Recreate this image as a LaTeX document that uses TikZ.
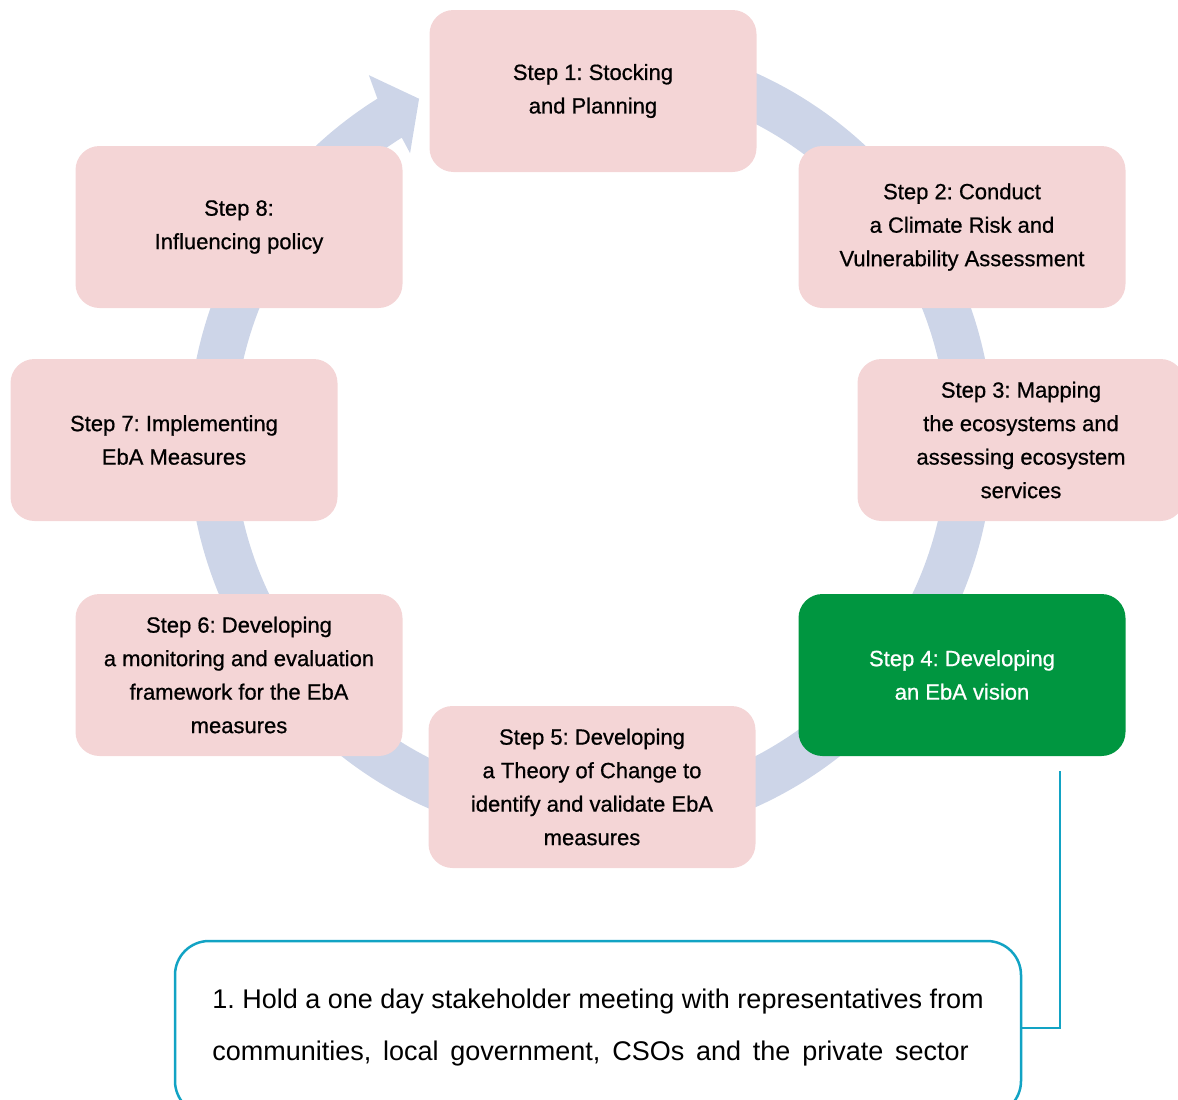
\documentclass[tikz,border=0pt]{standalone}
\usepackage{fontspec}
\setmainfont{Liberation Sans}
\newfontfamily\stepfont[FakeBold=0.7]{Liberation Sans}
\usetikzlibrary{calc}
\frenchspacing
\definecolor{stepfill}{RGB}{244,213,214}
\definecolor{ringblue}{RGB}{205,213,232}
\definecolor{activegreen}{RGB}{0,150,64}
\definecolor{linkteal}{RGB}{18,163,196}
\begin{document}
\begin{tikzpicture}[x=1pt,y=1pt,
  stepbox/.style={rectangle, rounded corners=24pt, fill=stepfill,
    minimum width=327pt, minimum height=162pt, inner sep=0pt,
    align=center, text=black, font=\stepfont\fontsize{22}{33.5}\selectfont},
  activebox/.style={stepbox, fill=activegreen, text=white},
  notebox/.style={rectangle, rounded corners=34pt, draw=linkteal,
    line width=2.5pt, minimum width=846pt, minimum height=174pt,
    inner sep=0pt, align=left, text=black,
    font=\fontsize{27}{52}\selectfont},
  link/.style={draw=linkteal, line width=2.5pt}]
\useasboundingbox (0,0) rectangle (1178,-1100);
\clip (0,0) rectangle (1178,-1100);

% circular cycle arrow behind the steps
\coordinate (C) at (590.7,-440);
\fill[ringblue]
  ($(C)+(110:402.5pt)$) arc[start angle=110, end angle=-238, radius=402.5pt]
  -- ($(C)+(-238.7:427pt)$)
  -- ($(C)+(-243.3:382pt)$)
  -- ($(C)+(-237.8:339pt)$)
  -- ($(C)+(-238:356.5pt)$)
  arc[start angle=-238, end angle=110, radius=356.5pt] -- cycle;

% the eight steps
\node[stepbox] (s1) at (593,-91) {Step 1: Stocking\\and Planning};
\node[stepbox] (s2) at (962,-227) {Step 2: Conduct\\a Climate Risk and\\Vulnerability Assessment};
\node[stepbox] (s3) at (1021,-440) {Step 3: Mapping\\the ecosystems and\\assessing ecosystem\\services};
\node[activebox] (s4) at (962,-675) {Step 4: Developing\\an EbA vision};
\node[stepbox] (s5) at (592,-787) {Step 5: Developing\\a Theory of Change to\\identify and validate EbA\\measures};
\node[stepbox] (s6) at (239,-675) {Step 6: Developing\\a monitoring and evaluation\\framework for the EbA\\measures};
\node[stepbox] (s7) at (174,-440) {Step 7: Implementing\\EbA Measures};
\node[stepbox] (s8) at (239,-227) {Step 8:\\Influencing policy};

% detail of step 4
\node[notebox] (note) at (598,-1028) {1. Hold a one day stakeholder meeting with representatives from\\{\spaceskip=11.8pt communities, local government, CSOs and the private sector}};
\coordinate (c4) at ($(s4.south)+(98pt,-15pt)$);
\draw[link] (c4) |- (note.east);
\end{tikzpicture}
\end{document}
